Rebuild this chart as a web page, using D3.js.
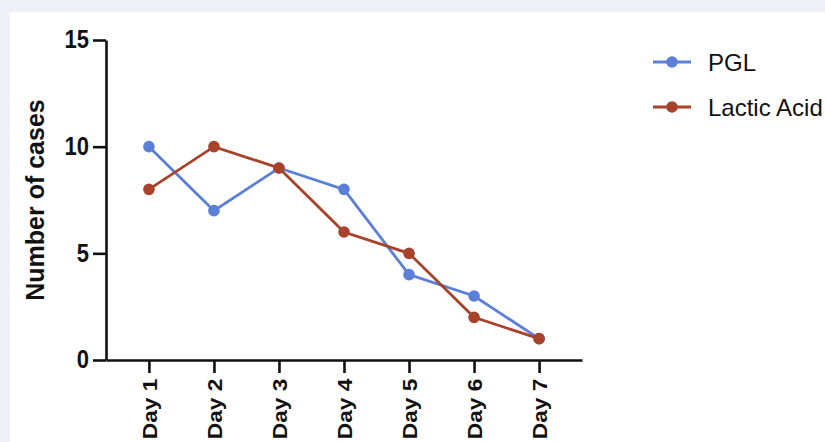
<!DOCTYPE html>
<html><head><meta charset="utf-8">
<script src="https://cdn.jsdelivr.net/npm/d3@7"></script>
<style>
html,body{margin:0;padding:0;background:#eef2f8;overflow:hidden;}
svg{display:block;}
</style></head>
<body>
<script>
const days = ["Day 1","Day 2","Day 3","Day 4","Day 5","Day 6","Day 7"];
const pgl = [10,7,9,8,4,3,1];
const lactic = [8,10,9,6,5,2,1];
const yTicks = [0,5,10,15];
const seriesNames = ["PGL","Lactic Acid"];
const seriesColors = ["#5b7fd6","#a8422b"];

const W = 825, H = 442;
const svg = d3.select("body").append("svg").attr("width", W).attr("height", H);
svg.append("rect").attr("x",0).attr("y",0).attr("width",W).attr("height",H).attr("fill","#eef2f8");
svg.append("rect").attr("x",10).attr("y",12).attr("width",W-10).attr("height",H-12).attr("fill","#ffffff");

const x = d3.scalePoint().domain(days).range([106,582]).padding(0.66);
const y = d3.scaleLinear().domain([0,15]).range([360,40]);

const fontBold = "'Liberation Sans', Arial, Helvetica, sans-serif";

// Y axis
const yAxis = svg.append("g").attr("transform","translate(106,0)")
  .call(d3.axisLeft(y).tickValues(yTicks).tickSize(13).tickPadding(4).tickSizeOuter(0));
yAxis.select(".domain").attr("stroke","#111").attr("stroke-width",2.6);
yAxis.selectAll(".tick line").attr("stroke","#111").attr("stroke-width",2.6);
yAxis.selectAll(".tick text").attr("font-family",fontBold).attr("font-weight","bold")
  .attr("font-size",22).attr("fill","#111").attr("dy","0.3em")
  .attr("transform","scale(1,1.2)");

// X axis
const xAxis = svg.append("g").attr("transform","translate(0,360)")
  .call(d3.axisBottom(x).tickSize(13).tickSizeOuter(0));
xAxis.select(".domain").attr("stroke","#111").attr("stroke-width",2.6);
xAxis.selectAll(".tick line").attr("stroke","#111").attr("stroke-width",2.6);
xAxis.selectAll(".tick text").attr("font-family",fontBold).attr("font-weight","bold")
  .attr("font-size",21).attr("fill","#111")
  .attr("text-anchor","end").attr("transform","rotate(-90) scale(1.08,1)")
  .attr("x",-17.3).attr("y",0).attr("dy","0.36em");

// Y label
svg.append("text").attr("transform","translate(44,200) rotate(-90)")
  .attr("text-anchor","middle").attr("font-family",fontBold).attr("font-weight","bold")
  .attr("font-size",25).attr("fill","#111").text("Number of cases");

const series = [pgl, lactic];
const line = d3.line().x((d,i)=>x(days[i])).y(d=>y(d));
series.forEach((vals, k) => {
  const g = svg.append("g");
  g.append("path").attr("d", line(vals)).attr("fill","none")
    .attr("stroke", seriesColors[k]).attr("stroke-width",2.8);
  g.selectAll("circle").data(vals).enter().append("circle")
    .attr("cx",(d,i)=>x(days[i])).attr("cy",d=>y(d)).attr("r",5.8)
    .attr("fill", seriesColors[k]);
});

// Legend
const leg = svg.append("g");
seriesNames.forEach((name,k) => {
  const ly = 62 + k*45;
  leg.append("line").attr("x1",653).attr("x2",691).attr("y1",ly).attr("y2",ly)
    .attr("stroke",seriesColors[k]).attr("stroke-width",2.8);
  leg.append("circle").attr("cx",672).attr("cy",ly).attr("r",5.8).attr("fill",seriesColors[k]);
  leg.append("text").attr("x",708).attr("y",ly).attr("dy","0.36em")
    .attr("font-family","'Liberation Sans', Arial, Helvetica, sans-serif")
    .attr("font-size",24).attr("fill","#111").text(name);
});
</script>
</body></html>
